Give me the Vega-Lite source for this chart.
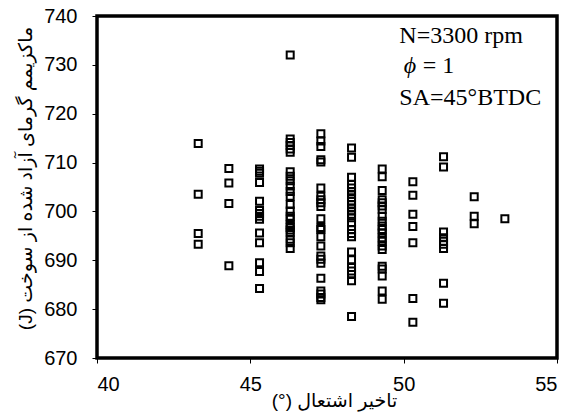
{
  "$schema": "https://vega.github.io/schema/vega-lite/v6.json",
  "width": 460,
  "height": 342,
  "autosize": {"type": "none"},
  "padding": {"left": 97, "top": 16, "right": 14, "bottom": 61},
  "background": "white",
  "config": {
    "view": {"stroke": "black", "strokeWidth": 3.5},
    "axis": {
      "domain": false,
      "grid": false,
      "ticks": true,
      "tickColor": "black",
      "tickSize": 5,
      "tickWidth": 1,
      "labelFont": "Liberation Sans",
      "labelFontSize": 20,
      "labelColor": "black",
      "titleFont": "Liberation Sans, DejaVu Sans",
      "titleFontSize": 19,
      "titleFontWeight": "normal",
      "titleColor": "black"
    }
  },
  "encoding": {
    "x": {
      "field": "x",
      "type": "quantitative",
      "scale": {"domain": [40, 55], "nice": false, "zero": false},
      "axis": {"values": [40, 45, 50, 55], "title": "(°) تاخیر اشتعال", "labelPadding": 11, "titlePadding": -3, "titleX": 237}
    },
    "y": {
      "field": "y",
      "type": "quantitative",
      "scale": {"domain": [670, 740], "nice": false, "zero": false},
      "axis": {"values": [670, 680, 690, 700, 710, 720, 730, 740], "title": "(J) ماکزیمم گرمای آزاد شده از سوخت", "labelPadding": 15, "titlePadding": 8, "titleY": 162}
    }
  },
  "layer": [
    {
      "data": {
        "values": [
          {"x": 43.3, "y": 713.9}, {"x": 43.3, "y": 703.5}, {"x": 43.3, "y": 695.5}, {"x": 43.3, "y": 693.3},
          {"x": 44.3, "y": 708.8}, {"x": 44.3, "y": 705.8}, {"x": 44.3, "y": 701.6}, {"x": 44.3, "y": 688.9},
          {"x": 45.3, "y": 708.7}, {"x": 45.3, "y": 708.2}, {"x": 45.3, "y": 707.8}, {"x": 45.3, "y": 705.9}, {"x": 45.3, "y": 702.1}, {"x": 45.3, "y": 700.2}, {"x": 45.3, "y": 699.6}, {"x": 45.3, "y": 699.0}, {"x": 45.3, "y": 698.4}, {"x": 45.3, "y": 695.6}, {"x": 45.3, "y": 693.6}, {"x": 45.3, "y": 689.5}, {"x": 45.3, "y": 687.7}, {"x": 45.3, "y": 684.2},
          {"x": 46.3, "y": 732.0}, {"x": 46.3, "y": 714.8}, {"x": 46.3, "y": 714.1}, {"x": 46.3, "y": 713.5}, {"x": 46.3, "y": 712.8}, {"x": 46.3, "y": 712.1}, {"x": 46.3, "y": 708.1}, {"x": 46.3, "y": 707.2}, {"x": 46.3, "y": 706.3}, {"x": 46.3, "y": 705.2}, {"x": 46.3, "y": 704.1}, {"x": 46.3, "y": 703.1}, {"x": 46.3, "y": 701.4}, {"x": 46.3, "y": 700.1}, {"x": 46.3, "y": 699.0}, {"x": 46.3, "y": 698.4}, {"x": 46.3, "y": 697.3}, {"x": 46.3, "y": 696.7}, {"x": 46.3, "y": 696.2}, {"x": 46.3, "y": 695.6}, {"x": 46.3, "y": 694.3}, {"x": 46.3, "y": 693.6}, {"x": 46.3, "y": 692.4},
          {"x": 47.3, "y": 715.9}, {"x": 47.3, "y": 714.4}, {"x": 47.3, "y": 713.3}, {"x": 47.3, "y": 710.6}, {"x": 47.3, "y": 710.1}, {"x": 47.3, "y": 704.8}, {"x": 47.3, "y": 703.1}, {"x": 47.3, "y": 702.4}, {"x": 47.3, "y": 701.8}, {"x": 47.3, "y": 701.0}, {"x": 47.3, "y": 698.5}, {"x": 47.3, "y": 696.7}, {"x": 47.3, "y": 696.3}, {"x": 47.3, "y": 694.8}, {"x": 47.3, "y": 692.9}, {"x": 47.3, "y": 690.9}, {"x": 47.3, "y": 690.2}, {"x": 47.3, "y": 689.4}, {"x": 47.3, "y": 686.3}, {"x": 47.3, "y": 683.7}, {"x": 47.3, "y": 683.1}, {"x": 47.3, "y": 682.4}, {"x": 47.3, "y": 681.9},
          {"x": 48.3, "y": 713.0}, {"x": 48.3, "y": 711.1}, {"x": 48.3, "y": 707.0}, {"x": 48.3, "y": 705.5}, {"x": 48.3, "y": 704.8}, {"x": 48.3, "y": 704.1}, {"x": 48.3, "y": 703.5}, {"x": 48.3, "y": 702.8}, {"x": 48.3, "y": 702.1}, {"x": 48.3, "y": 701.4}, {"x": 48.3, "y": 700.7}, {"x": 48.3, "y": 700.1}, {"x": 48.3, "y": 699.4}, {"x": 48.3, "y": 698.7}, {"x": 48.3, "y": 697.7}, {"x": 48.3, "y": 696.3}, {"x": 48.3, "y": 695.5}, {"x": 48.3, "y": 694.8}, {"x": 48.3, "y": 691.7}, {"x": 48.3, "y": 690.1}, {"x": 48.3, "y": 688.5}, {"x": 48.3, "y": 687.8}, {"x": 48.3, "y": 687.1}, {"x": 48.3, "y": 685.8}, {"x": 48.3, "y": 678.5},
          {"x": 49.3, "y": 708.7}, {"x": 49.3, "y": 707.1}, {"x": 49.3, "y": 704.3}, {"x": 49.3, "y": 702.4}, {"x": 49.3, "y": 701.8}, {"x": 49.3, "y": 701.1}, {"x": 49.3, "y": 700.4}, {"x": 49.3, "y": 699.0}, {"x": 49.3, "y": 698.0}, {"x": 49.3, "y": 697.0}, {"x": 49.3, "y": 696.3}, {"x": 49.3, "y": 695.6}, {"x": 49.3, "y": 694.6}, {"x": 49.3, "y": 693.9}, {"x": 49.3, "y": 692.9}, {"x": 49.3, "y": 692.2}, {"x": 49.3, "y": 688.8}, {"x": 49.3, "y": 688.2}, {"x": 49.3, "y": 686.8}, {"x": 49.3, "y": 683.7}, {"x": 49.3, "y": 682.0},
          {"x": 50.3, "y": 706.1}, {"x": 50.3, "y": 703.3}, {"x": 50.3, "y": 699.4}, {"x": 50.3, "y": 696.9}, {"x": 50.3, "y": 693.6}, {"x": 50.3, "y": 682.2}, {"x": 50.3, "y": 677.3},
          {"x": 51.3, "y": 711.2}, {"x": 51.3, "y": 709.1}, {"x": 51.3, "y": 695.8}, {"x": 51.3, "y": 694.6}, {"x": 51.3, "y": 693.9}, {"x": 51.3, "y": 693.3}, {"x": 51.3, "y": 692.4}, {"x": 51.3, "y": 685.3}, {"x": 51.3, "y": 681.2},
          {"x": 52.3, "y": 703.0}, {"x": 52.3, "y": 699.0}, {"x": 52.3, "y": 697.5},
          {"x": 53.3, "y": 698.5}
        ]
      },
      "mark": {"type": "point", "shape": "square", "filled": false, "stroke": "black", "strokeWidth": 2, "size": 49, "opacity": 1}
    },
    {
      "data": {
        "values": [
          {"x": 49.86, "y": 734.4, "label": "N=3300 rpm"},
          {"x": 50.62, "y": 728.3, "label": "= 1"},
          {"x": 49.86, "y": 721.8, "label": "SA=45°BTDC"}
        ]
      },
      "mark": {"type": "text", "align": "left", "baseline": "alphabetic", "font": "Liberation Serif", "fontSize": 24, "color": "black"},
      "encoding": {"text": {"field": "label"}}
    },
    {
      "data": {"values": [{"x": 50.0, "y": 728.3, "label": "ϕ"}]},
      "mark": {"type": "text", "align": "left", "baseline": "alphabetic", "font": "Liberation Serif", "fontStyle": "italic", "fontSize": 24, "color": "black"},
      "encoding": {"text": {"field": "label"}}
    }
  ]
}
